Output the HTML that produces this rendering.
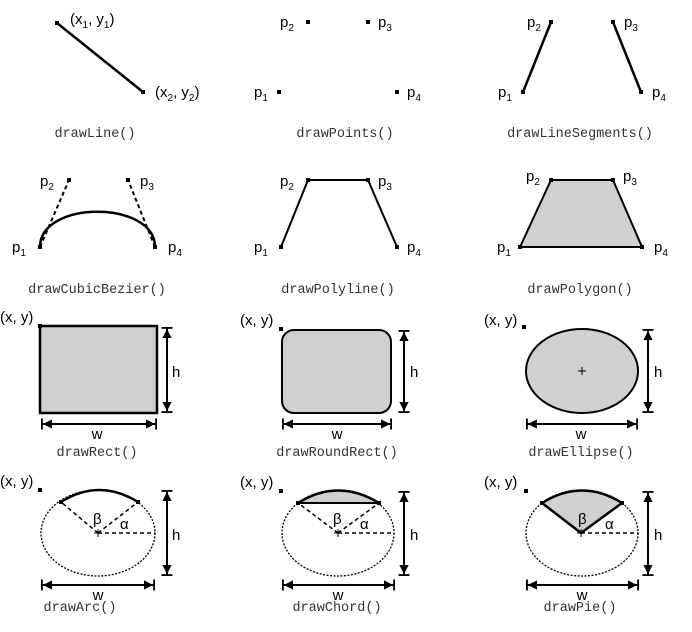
<!DOCTYPE html>
<html><head><meta charset="utf-8"><style>
html,body{margin:0;padding:0;background:#fff}
svg{display:block}
.l{font-family:"Liberation Sans",sans-serif;font-size:15px;fill:#000}
.c{font-family:"Liberation Mono",monospace;font-size:13.5px;fill:#333}
.s{font-size:10px}
</style></head><body>
<svg width="692" height="632" viewBox="0 0 692 632" xmlns="http://www.w3.org/2000/svg">
<defs>
<marker id="a" viewBox="0 0 12 12" refX="12" refY="6" markerWidth="11" markerHeight="11" orient="auto-start-reverse" markerUnits="userSpaceOnUse">
<path d="M0,1 L10,6 L0,11 Z" fill="#000"/><rect x="10" y="0" width="2" height="12" fill="#000"/>
</marker>
</defs>
<g stroke="#000" fill="none">
<line x1="57" y1="23" x2="143" y2="92" stroke-width="2.5"/>
<line x1="551" y1="22" x2="523" y2="92" stroke-width="2.5"/>
<line x1="613" y1="22" x2="641" y2="92" stroke-width="2.5"/>
<path d="M40,247 C40,200 155,200 155,247" stroke-width="2.5"/>
<line x1="40" y1="247" x2="69" y2="180" stroke-width="2" stroke-dasharray="4,3"/>
<line x1="155" y1="247" x2="128" y2="180" stroke-width="2" stroke-dasharray="4,3"/>
<polyline points="281,247 308,180 368,180 397,247" stroke-width="2"/>
<polygon points="520,247 551,180 613,180 642,247" fill="#d0d0d0" stroke-width="2"/>
<rect x="40" y="326" width="117" height="87" fill="#d0d0d0" stroke-width="2.5"/>
<rect x="282" y="330" width="109" height="83" rx="12" fill="#d0d0d0" stroke-width="2"/>
<ellipse cx="582" cy="371" rx="56" ry="42" fill="#d0d0d0" stroke-width="2"/>
<line x1="578" y1="371" x2="586" y2="371" stroke-width="1"/><line x1="582" y1="367" x2="582" y2="375" stroke-width="1"/>
<line x1="167" y1="327" x2="167" y2="413" stroke-width="2" marker-start="url(#a)" marker-end="url(#a)"/>
<line x1="41" y1="424" x2="157" y2="424" stroke-width="2" marker-start="url(#a)" marker-end="url(#a)"/>
<line x1="404" y1="330" x2="404" y2="413" stroke-width="2" marker-start="url(#a)" marker-end="url(#a)"/>
<line x1="282" y1="424" x2="392" y2="424" stroke-width="2" marker-start="url(#a)" marker-end="url(#a)"/>
<line x1="648" y1="329" x2="648" y2="413" stroke-width="2" marker-start="url(#a)" marker-end="url(#a)"/>
<line x1="526" y1="424" x2="638" y2="424" stroke-width="2" marker-start="url(#a)" marker-end="url(#a)"/>
<ellipse cx="98" cy="533" rx="57" ry="43" stroke-width="1.3" stroke-dasharray="2,1.5"/>
<ellipse cx="338" cy="533" rx="56" ry="43" stroke-width="1.3" stroke-dasharray="2,1.5"/>
<ellipse cx="582" cy="533" rx="56" ry="43" stroke-width="1.3" stroke-dasharray="2,1.5"/>
<path d="M61,502 Q99,478 138,502" stroke-width="2.5"/>
<g stroke-width="1.5" stroke-dasharray="4,3"><line x1="98" y1="533" x2="61" y2="502"/><line x1="98" y1="533" x2="138" y2="502"/><line x1="98" y1="533" x2="155" y2="533"/></g>
<path d="M298,503 Q338,478 379,503 Z" fill="#d0d0d0" stroke="none"/>
<path d="M298,503 Q338,478 379,503" stroke-width="2.5"/>
<line x1="298" y1="503" x2="379" y2="503" stroke-width="2"/>
<g stroke-width="1.5" stroke-dasharray="4,3"><line x1="338" y1="533" x2="298" y2="503"/><line x1="338" y1="533" x2="379" y2="503"/><line x1="338" y1="533" x2="394" y2="533"/></g>
<path d="M581,533 L542,503 Q582,478 622,503 Z" fill="#d0d0d0" stroke-width="2.5" stroke-linejoin="round"/>
<line x1="581" y1="533" x2="638" y2="533" stroke-width="1.5" stroke-dasharray="4,3"/>
<g stroke-width="1"><line x1="94" y1="533" x2="102" y2="533"/><line x1="98" y1="529" x2="98" y2="537"/>
<line x1="334" y1="533" x2="342" y2="533"/><line x1="338" y1="529" x2="338" y2="537"/>
<line x1="577" y1="533" x2="585" y2="533"/><line x1="581" y1="529" x2="581" y2="537"/></g>
<line x1="167" y1="490" x2="167" y2="576" stroke-width="2" marker-start="url(#a)" marker-end="url(#a)"/>
<line x1="41" y1="585" x2="155" y2="585" stroke-width="2" marker-start="url(#a)" marker-end="url(#a)"/>
<line x1="404" y1="491" x2="404" y2="576" stroke-width="2" marker-start="url(#a)" marker-end="url(#a)"/>
<line x1="282" y1="585" x2="395" y2="585" stroke-width="2" marker-start="url(#a)" marker-end="url(#a)"/>
<line x1="648" y1="491" x2="648" y2="576" stroke-width="2" marker-start="url(#a)" marker-end="url(#a)"/>
<line x1="526" y1="585" x2="639" y2="585" stroke-width="2" marker-start="url(#a)" marker-end="url(#a)"/>
</g>
<g fill="#000">
<rect x="55" y="21" width="4" height="4"/><rect x="141" y="90" width="4" height="4"/>
<rect x="306" y="20" width="4" height="4"/><rect x="366" y="20" width="4" height="4"/><rect x="277" y="90" width="4" height="4"/><rect x="395" y="90" width="4" height="4"/>
<rect x="549" y="20" width="4" height="4"/><rect x="611" y="20" width="4" height="4"/><rect x="521" y="90" width="4" height="4"/><rect x="639" y="90" width="4" height="4"/>
<rect x="38" y="245" width="4" height="4"/><rect x="153" y="245" width="4" height="4"/><rect x="67" y="178" width="4" height="4"/><rect x="126" y="178" width="4" height="4"/>
<rect x="279" y="245" width="4" height="4"/><rect x="306" y="178" width="4" height="4"/><rect x="366" y="178" width="4" height="4"/><rect x="395" y="245" width="4" height="4"/>
<rect x="518" y="245" width="4" height="4"/><rect x="549" y="178" width="4" height="4"/><rect x="611" y="178" width="4" height="4"/><rect x="640" y="245" width="4" height="4"/>
<rect x="38" y="324" width="4" height="4"/><rect x="279" y="327" width="4" height="4"/><rect x="522" y="325" width="4" height="4"/>
<rect x="38" y="488" width="4" height="4"/><rect x="279" y="489" width="4" height="4"/><rect x="524" y="489" width="4" height="4"/>
<rect x="59" y="500" width="4" height="4"/><rect x="136" y="500" width="4" height="4"/>
<rect x="296" y="501" width="4" height="4"/><rect x="377" y="501" width="4" height="4"/>
<rect x="540" y="501" width="4" height="4"/><rect x="620" y="501" width="4" height="4"/>
</g>
<text class="l" x="70" y="24">(x<tspan class="s" dy="4">1</tspan><tspan dy="-4">, y</tspan><tspan class="s" dy="4">1</tspan><tspan dy="-4">)</tspan></text>
<text class="l" x="155" y="97">(x<tspan class="s" dy="4">2</tspan><tspan dy="-4">, y</tspan><tspan class="s" dy="4">2</tspan><tspan dy="-4">)</tspan></text>
<g class="l">
<text x="280" y="27">p<tspan class="s" dy="4">2</tspan></text><text x="378" y="27">p<tspan class="s" dy="4">3</tspan></text>
<text x="254" y="97">p<tspan class="s" dy="4">1</tspan></text><text x="407" y="97">p<tspan class="s" dy="4">4</tspan></text>
<text x="527" y="27">p<tspan class="s" dy="4">2</tspan></text><text x="624" y="27">p<tspan class="s" dy="4">3</tspan></text>
<text x="498" y="97">p<tspan class="s" dy="4">1</tspan></text><text x="652" y="97">p<tspan class="s" dy="4">4</tspan></text>
<text x="40" y="186">p<tspan class="s" dy="4">2</tspan></text><text x="140" y="186">p<tspan class="s" dy="4">3</tspan></text>
<text x="12" y="252">p<tspan class="s" dy="4">1</tspan></text><text x="168" y="252">p<tspan class="s" dy="4">4</tspan></text>
<text x="280" y="186">p<tspan class="s" dy="4">2</tspan></text><text x="378" y="186">p<tspan class="s" dy="4">3</tspan></text>
<text x="254" y="252">p<tspan class="s" dy="4">1</tspan></text><text x="407" y="252">p<tspan class="s" dy="4">4</tspan></text>
<text x="526" y="181">p<tspan class="s" dy="4">2</tspan></text><text x="623" y="181">p<tspan class="s" dy="4">3</tspan></text>
<text x="497" y="252">p<tspan class="s" dy="4">1</tspan></text><text x="654" y="252">p<tspan class="s" dy="4">4</tspan></text>
<text x="0" y="322">(x, y)</text><text x="240" y="325">(x, y)</text><text x="484" y="325">(x, y)</text>
<text x="0" y="486">(x, y)</text><text x="240" y="487">(x, y)</text><text x="484" y="487">(x, y)</text>
<text x="172" y="377">h</text><text x="410" y="377">h</text><text x="654" y="377">h</text>
<text x="172" y="540">h</text><text x="410" y="540">h</text><text x="654" y="540">h</text>
<text x="97" y="439" text-anchor="middle">w</text><text x="337" y="439" text-anchor="middle">w</text><text x="581" y="439" text-anchor="middle">w</text>
<text x="98" y="600" text-anchor="middle">w</text><text x="338" y="600" text-anchor="middle">w</text><text x="582" y="600" text-anchor="middle">w</text>
<text x="93" y="524">β</text><text x="120" y="529">α</text>
<text x="333" y="524">β</text><text x="360" y="529">α</text>
<text x="578" y="524">β</text><text x="605" y="529">α</text>
</g>
<g class="c" text-anchor="middle">
<text x="95" y="137">drawLine()</text><text x="345" y="137">drawPoints()</text><text x="580" y="137">drawLineSegments()</text>
<text x="97" y="293">drawCubicBezier()</text><text x="338" y="293">drawPolyline()</text><text x="580" y="293">drawPolygon()</text>
<text x="97" y="456">drawRect()</text><text x="337" y="456">drawRoundRect()</text><text x="581" y="456">drawEllipse()</text>
<text x="80" y="611">drawArc()</text><text x="337" y="611">drawChord()</text><text x="580" y="611">drawPie()</text>
</g>
</svg>
</body></html>
